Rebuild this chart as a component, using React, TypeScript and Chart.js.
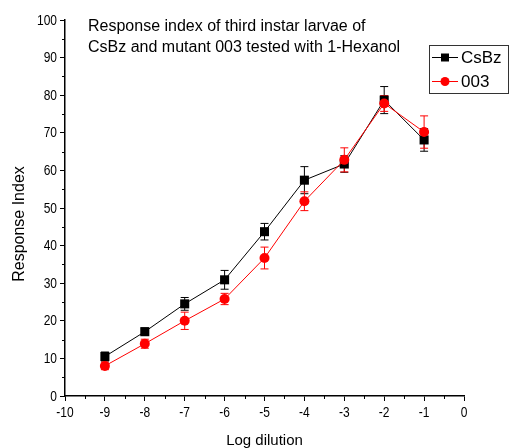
import React, { useEffect, useRef } from "react";
import { Chart, registerables } from "chart.js";

Chart.register(...registerables);

const xValues = [-9, -8, -7, -6, -5, -4, -3, -2, -1];
const csbzValues = [10.5, 17.1, 24.5, 30.9, 43.7, 57.4, 61.7, 78.7, 68.1];
const csbzErrors = [1.2, 1.0, 1.7, 2.5, 2.2, 3.6, 2.2, 3.6, 3.0];
const mutantValues = [8.0, 13.9, 20.0, 25.8, 36.7, 51.8, 62.8, 77.8, 70.2];
const mutantErrors = [1.0, 1.2, 2.3, 1.5, 2.9, 2.5, 3.2, 2.1, 4.3];
const seriesLabels = ["CsBz", "003"];
const titleLines = [
  "Response index of third instar larvae of",
  "CsBz and mutant 003 tested with 1-Hexanol",
];
const xAxisTitle = "Log dilution";
const yAxisTitle = "Response Index";
const xMinorTicks = [-9.5, -8.5, -7.5, -6.5, -5.5, -4.5, -3.5, -2.5, -1.5, -0.5];
const yMinorTicks = [5, 15, 25, 35, 45, 55, 65, 75, 85, 95];

const FONT = "'Liberation Sans', Arial, sans-serif";
const CONDENSE = 0.8;

const errorBarPlugin = {
  id: "errorBars",
  beforeDatasetsDraw(chart: any) {
    const ctx = chart.ctx;
    const xs = chart.scales.x;
    const ys = chart.scales.y;
    const sets = [
      { vals: csbzValues, errs: csbzErrors, color: "#000000" },
      { vals: mutantValues, errs: mutantErrors, color: "#ff0000" },
    ];
    ctx.save();
    ctx.lineWidth = 1;
    sets.forEach((s) => {
      ctx.strokeStyle = s.color;
      s.vals.forEach((v, i) => {
        const px = xs.getPixelForValue(xValues[i]);
        const top = ys.getPixelForValue(v + s.errs[i]);
        const bot = ys.getPixelForValue(v - s.errs[i]);
        ctx.beginPath();
        ctx.moveTo(px, top);
        ctx.lineTo(px, bot);
        ctx.moveTo(px - 4, top);
        ctx.lineTo(px + 4, top);
        ctx.moveTo(px - 4, bot);
        ctx.lineTo(px + 4, bot);
        ctx.stroke();
      });
    });
    ctx.restore();
  },
};

function condensedText(ctx: any, text: string, x: number, y: number, align: string, baseline: string) {
  ctx.save();
  ctx.translate(x, y);
  ctx.scale(CONDENSE, 1);
  ctx.textAlign = align;
  ctx.textBaseline = baseline;
  ctx.fillText(text, 0, 0);
  ctx.restore();
}

const decorPlugin = {
  id: "decor",
  afterDraw(chart: any) {
    const ctx = chart.ctx;
    const xs = chart.scales.x;
    const ys = chart.scales.y;
    const area = chart.chartArea;
    ctx.save();
    // minor ticks
    ctx.strokeStyle = "#000";
    ctx.lineWidth = 1;
    ctx.beginPath();
    xMinorTicks.forEach((v) => {
      const px = Math.round(xs.getPixelForValue(v)) + 0.5;
      ctx.moveTo(px, area.bottom);
      ctx.lineTo(px, area.bottom + 3);
    });
    yMinorTicks.forEach((v) => {
      const py = Math.round(ys.getPixelForValue(v)) + 0.5;
      ctx.moveTo(area.left - 3, py);
      ctx.lineTo(area.left, py);
    });
    ctx.stroke();

    // tick labels (condensed, like the narrow font of the original)
    ctx.fillStyle = "#000";
    ctx.font = `15px ${FONT}`;
    xs.ticks.forEach((t: any) => {
      condensedText(ctx, String(t.value), xs.getPixelForValue(t.value), area.bottom + 9, "center", "top");
    });
    ys.ticks.forEach((t: any) => {
      condensedText(ctx, String(t.value), area.left - 8, ys.getPixelForValue(t.value) + 0.5, "right", "middle");
    });

    // axis titles
    ctx.font = `15px ${FONT}`;
    ctx.textAlign = "center";
    ctx.textBaseline = "alphabetic";
    ctx.fillText(xAxisTitle, (area.left + area.right) / 2, area.bottom + 49);
    ctx.save();
    ctx.translate(area.left - 45, (area.top + area.bottom) / 2 + 16);
    ctx.rotate(-Math.PI / 2);
    ctx.font = `16px ${FONT}`;
    ctx.textBaseline = "middle";
    ctx.fillText(yAxisTitle, 0, 0);
    ctx.restore();

    // title text inside plot
    ctx.fillStyle = "#000";
    ctx.font = `16px ${FONT}`;
    ctx.textBaseline = "alphabetic";
    ctx.textAlign = "left";
    titleLines.forEach((t, i) => {
      ctx.fillText(t, area.left + 23, area.top + 11 + i * 21);
    });

    // legend box
    const lx = area.right - 35;
    const ly = area.top + 25;
    const lw = 79;
    const lh = 48;
    ctx.strokeStyle = "#333";
    ctx.lineWidth = 1;
    ctx.strokeRect(lx + 0.5, ly + 0.5, lw, lh);
    const entries = [
      { label: seriesLabels[0], color: "#000000", style: "rect" },
      { label: seriesLabels[1], color: "#ff0000", style: "circle" },
    ];
    entries.forEach((e, i) => {
      const cy = ly + 12.5 + i * 24;
      ctx.strokeStyle = e.color;
      ctx.fillStyle = e.color;
      ctx.beginPath();
      ctx.moveTo(lx + 3, cy);
      ctx.lineTo(lx + 29, cy);
      ctx.stroke();
      const cx = lx + 16;
      ctx.beginPath();
      if (e.style === "rect") {
        ctx.rect(cx - 4, cy - 4, 8, 8);
      } else {
        ctx.arc(cx, cy, 4.5, 0, Math.PI * 2);
      }
      ctx.fill();
      ctx.fillStyle = "#000";
      ctx.font = `17px ${FONT}`;
      ctx.textBaseline = "middle";
      ctx.textAlign = "left";
      ctx.fillText(e.label, lx + 32, cy + 1);
    });
    ctx.restore();
  },
};

export default function App() {
  const ref = useRef<HTMLCanvasElement>(null);
  useEffect(() => {
    if (!ref.current) return;
    const chart = new Chart(ref.current, {
      type: "line",
      data: {
        datasets: [
          {
            label: seriesLabels[0],
            data: xValues.map((x, i) => ({ x, y: csbzValues[i] })),
            borderColor: "#000000",
            backgroundColor: "#000000",
            borderWidth: 1,
            pointStyle: "rect",
            pointRadius: 6.4,
            pointBorderWidth: 0,
            order: 1,
          },
          {
            label: seriesLabels[1],
            data: xValues.map((x, i) => ({ x, y: mutantValues[i] })),
            borderColor: "#ff0000",
            backgroundColor: "#ff0000",
            borderWidth: 1,
            pointStyle: "circle",
            pointRadius: 5,
            pointBorderWidth: 0,
            order: 0,
          },
        ],
      },
      options: {
        responsive: false,
        animation: false,
        devicePixelRatio: 1,
        layout: { padding: { left: 0, right: 45, top: 20, bottom: 0 } },
        plugins: {
          legend: { display: false },
          tooltip: { enabled: false },
          title: { display: false },
        },
        scales: {
          x: {
            type: "linear",
            min: -10,
            max: 0,
            ticks: {
              stepSize: 1,
              display: false,
              autoSkip: false,
            },
            grid: {
              display: true,
              drawOnChartArea: false,
              drawTicks: true,
              tickLength: 5,
              color: "#000",
            },
            border: { display: true, color: "#000", width: 1.5 },
            title: { display: false },
            afterFit: (s: any) => {
              s.height = 52;
            },
          },
          y: {
            type: "linear",
            min: 0,
            max: 100,
            ticks: {
              stepSize: 10,
              display: false,
            },
            grid: {
              display: true,
              drawOnChartArea: false,
              drawTicks: true,
              tickLength: 5,
              color: "#000",
            },
            border: { display: true, color: "#000", width: 1.5 },
            title: { display: false },
            afterFit: (s: any) => {
              s.width = 65;
            },
          },
        },
      },
      plugins: [errorBarPlugin, decorPlugin],
    } as any);
    return () => chart.destroy();
  }, []);
  return (
    <div style={{ position: "absolute", left: 0, top: 0, width: 509, height: 448, background: "#fff" }}>
      <canvas ref={ref} width={509} height={448} style={{ display: "block" }} />
    </div>
  );
}
